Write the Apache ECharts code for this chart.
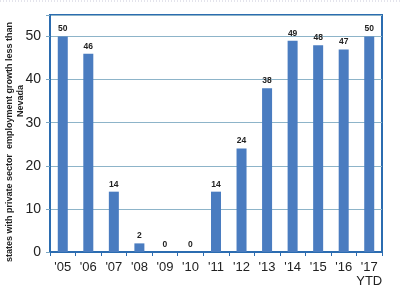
<!DOCTYPE html>
<html><head><meta charset="utf-8">
<script src="https://cdn.jsdelivr.net/npm/echarts@6/dist/echarts.min.js"></script>
<style>html,body{margin:0;padding:0;background:#fff}#c{width:400px;height:297px}</style>
</head><body><div id="c"></div>
<script>
const categories = ["'05","'06","'07","'08","'09","'10","'11","'12","'13","'14","'15","'16","'17\nYTD"];
const values = [50,46,14,2,0,0,14,24,38,49,48,47,50];
const yTicks = [0,10,20,30,40,50];
const yTitle1 = "states with private sector  employment growth less than";
const yTitle2 = "Nevada";

const chart = echarts.init(document.getElementById('c'), null, {renderer:'canvas'});
chart.setOption({
  animation:false,
  backgroundColor:'#fff',
  grid:{left:50,right:18,top:15,bottom:45,show:true,borderColor:'#2b6cb0',borderWidth:2,backgroundColor:'transparent'},
  xAxis:{type:'category',data:categories,
    axisLine:{lineStyle:{color:'#2b6cb0',width:2}},
    axisTick:{show:true,length:4,lineStyle:{color:'#2b6cb0'}},
    axisLabel:{color:'#222',fontSize:13,fontFamily:'Liberation Sans, Arial',margin:8,lineHeight:14,interval:0}},
  yAxis:{type:'value',min:0,max:55,interval:10,
    axisLine:{show:true,lineStyle:{color:'#2b6cb0',width:2}},
    axisTick:{show:true,length:4,lineStyle:{color:'#7aa6c2'}},
    splitLine:{lineStyle:{color:'#8db4c9',width:1}},
    axisLabel:{color:'#222',fontSize:14,fontFamily:'Liberation Sans, Arial',margin:9,
      formatter:v=>yTicks.includes(v)?String(v):''}},
  graphic:[
    {type:'text',x:10,y:142,rotation:Math.PI/2,style:{text:yTitle1,fontSize:9,fontWeight:'bold',fill:'#222',fontFamily:'Liberation Sans, Arial',align:'center',verticalAlign:'middle'}},
    {type:'text',x:21,y:101,rotation:Math.PI/2,style:{text:yTitle2,fontSize:9,fontWeight:'bold',fill:'#222',fontFamily:'Liberation Sans, Arial',align:'center',verticalAlign:'middle'}},
    {type:'line',shape:{x1:0,y1:1,x2:400,y2:1},style:{stroke:'#c8c8d8',lineDash:[1,2],lineWidth:1}}
  ],
  series:[{type:'bar',data:values,barWidth:10,
    itemStyle:{color:'#4a7cc0'},
    label:{show:true,position:'top',distance:3,fontSize:8.5,fontWeight:'bold',color:'#222',fontFamily:'Liberation Sans, Arial'}}]
});
</script></body></html>
